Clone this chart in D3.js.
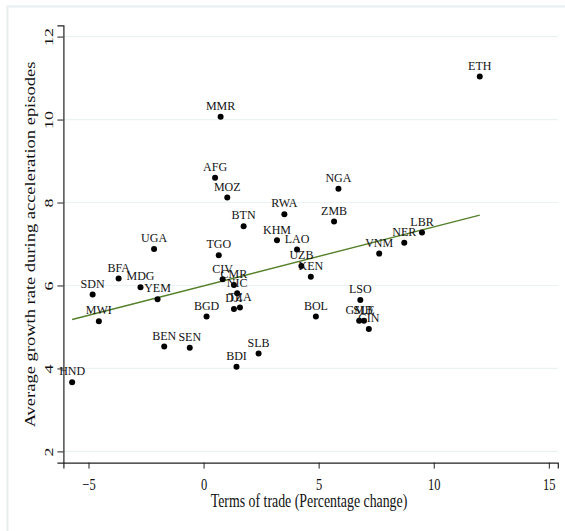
<!DOCTYPE html>
<html>
<head>
<meta charset="utf-8">
<script src="https://cdn.jsdelivr.net/npm/d3@7"></script>
<style>
  html, body { margin: 0; padding: 0; background: #fff; }
  svg { display: block; }
  text { font-family: "Liberation Serif", "Times New Roman", serif; fill: #111; }
</style>
</head>
<body>
<svg id="chart" width="565" height="531"></svg>
<script>
// ---- data ----
const countries = ["HND","SDN","MWI","BFA","MDG","UGA","YEM","BEN","SEN","BGD",
  "AFG","TGO","MMR","CIV","MOZ","CMR","DJI","BDI","NIC","TZA",
  "BTN","SLB","KHM","RWA","LAO","UZB","KEN","BOL","ZMB","NGA",
  "LSO","GMB","SLE","GIN","VNM","NER","LBR","ETH"];
const termsOfTrade = [-5.71,-4.82,-4.55,-3.69,-2.74,-2.15,-2.00,-1.71,-0.60,0.13,
  0.50,0.66,0.74,0.83,1.03,1.32,1.32,1.43,1.46,1.58,
  1.74,2.39,3.19,3.51,4.06,4.25,4.66,4.88,5.67,5.86,
  6.81,6.76,6.97,7.18,7.63,8.72,9.49,12.00];
const growthRate = [3.67,5.78,5.14,6.17,5.96,6.88,5.67,4.53,4.50,5.25,
  8.60,6.73,10.07,6.15,8.12,6.01,5.43,4.04,5.81,5.47,
  7.43,4.36,7.09,7.72,6.87,6.47,6.21,5.25,7.54,8.33,
  5.65,5.15,5.15,4.95,6.77,7.03,7.28,11.04];
const xTicks = [-5, 0, 5, 10, 15];
const yTicks = [2, 4, 6, 8, 10, 12];
const xTitle = "Terms of trade (Percentage change)";
const yTitle = "Average growth rate during acceleration episodes";

const points = countries.map((c, i) => ({ c, x: termsOfTrade[i], y: growthRate[i] }));

// OLS linear fit
const mx = d3.mean(termsOfTrade), my = d3.mean(growthRate);
const sxy = d3.sum(points, d => (d.x - mx) * (d.y - my));
const sxx = d3.sum(points, d => (d.x - mx) ** 2);
const slope = sxy / sxx, intercept = my - slope * mx;
const xExt = d3.extent(termsOfTrade);
const fitLine = xExt.map(v => ({ x: v, y: intercept + slope * v }));

// ---- layout ----
const svg = d3.select("#chart");
const plotL = 63.4, plotR = 557.8, plotT = 25.4, plotB = 462.6;
const x = d3.scaleLinear().domain([-6.09, 15.39]).range([plotL, plotR]);
const y = d3.scaleLinear().domain([1.73, 12.27]).range([plotB, plotT]);

// outer frame (top and left edges visible)
svg.append("path")
  .attr("d", "M7.5,531 L7.5,6.5 L565,6.5")
  .attr("fill", "none").attr("stroke", "#e6eeee").attr("stroke-width", 2);

// grid
svg.append("g").selectAll("line").data(yTicks).join("line")
  .attr("x1", plotL).attr("x2", plotR)
  .attr("y1", d => y(d)).attr("y2", d => y(d))
  .attr("stroke", "#eaf2f3").attr("stroke-width", 1.2);

// axes
const xAxis = svg.append("g").attr("transform", `translate(0,${plotB})`)
  .call(d3.axisBottom(x).tickValues(xTicks).tickSize(6).tickPadding(3).tickFormat(d3.format("d")));
const yAxis = svg.append("g").attr("transform", `translate(${plotL},0)`)
  .call(d3.axisLeft(y).tickValues(yTicks).tickSize(6).tickFormat(d3.format("d")));
[xAxis, yAxis].forEach(a => {
  a.select(".domain").attr("stroke", "#222").attr("stroke-width", 1.2);
  a.selectAll(".tick line").attr("stroke", "#222").attr("stroke-width", 1);
  a.selectAll("text").attr("font-family", "Liberation Serif, serif").attr("fill", "#111");
});
// x tick labels: tall narrow serif
xAxis.selectAll(".tick text")
  .attr("font-size", 16).attr("dy", null).attr("y", 0)
  .attr("transform", "translate(0,27.4) scale(0.78,1)");
// y tick labels rotated
yAxis.selectAll(".tick text")
  .attr("font-size", 18).attr("x", null).attr("dy", null)
  .attr("text-anchor", "middle")
  .attr("transform", "translate(-10.1,0) scale(0.74,1) rotate(-90)");

// titles
svg.append("text")
  .attr("text-anchor", "middle").attr("font-size", 18)
  .attr("transform", `translate(309,507.3) scale(0.77,1)`)
  .text(xTitle);
svg.append("text")
  .attr("text-anchor", "middle").attr("font-size", 18.5)
  .attr("transform", `translate(35,244.5) scale(0.74,1) rotate(-90)`)
  .text(yTitle);

// fitted line
svg.append("path")
  .datum(fitLine)
  .attr("d", d3.line().x(d => x(d.x)).y(d => y(d.y)))
  .attr("fill", "none").attr("stroke", "#55802a").attr("stroke-width", 1.4);

// points
svg.append("g").selectAll("circle").data(points).join("circle")
  .attr("cx", d => x(d.x)).attr("cy", d => y(d.y)).attr("r", 3)
  .attr("fill", "#000");

// labels
svg.append("g").selectAll("text").data(points).join("text")
  .attr("x", d => x(d.x)).attr("y", d => y(d.y) - 6.7)
  .attr("text-anchor", "middle").attr("font-size", 12).attr("fill", "#1a1a1a")
  .text(d => d.c);
</script>
</body>
</html>
